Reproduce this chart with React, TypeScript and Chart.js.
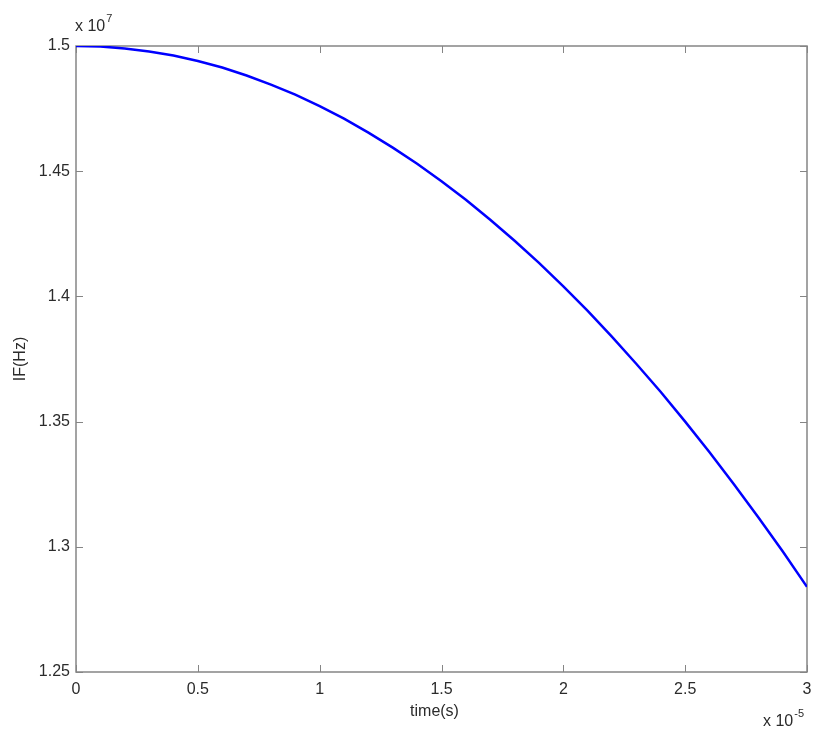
import React, { useEffect, useRef } from "react";
import { Chart, registerables } from "chart.js";

Chart.register(...registerables);

// time in units of 1e-5 s
const TIME = [0, 0.1, 0.2, 0.3, 0.4, 0.5, 0.6, 0.7, 0.8, 0.9, 1.0, 1.1, 1.2, 1.3, 1.4, 1.5, 1.6, 1.7, 1.8, 1.9, 2.0, 2.1, 2.2, 2.3, 2.4, 2.5, 2.6, 2.7, 2.8, 2.9, 3.0];
// instantaneous frequency in units of 1e7 Hz
const FREQ = [1.5, 1.4998, 1.499, 1.4978, 1.4962, 1.494, 1.4914, 1.4882, 1.4846, 1.4806, 1.476, 1.471, 1.4654, 1.4594, 1.453, 1.446, 1.4386, 1.4306, 1.4222, 1.4134, 1.404, 1.3942, 1.3838, 1.373, 1.3618, 1.35, 1.3378, 1.325, 1.3118, 1.2982, 1.284];

const X_TICKS = [0, 0.5, 1, 1.5, 2, 2.5, 3];
const Y_TICKS = [1.25, 1.3, 1.35, 1.4, 1.45, 1.5];
const X_LABEL = "time(s)";
const Y_LABEL = "IF(Hz)";
const X_EXP = "-5";
const Y_EXP = "7";

const FONT = "'Liberation Sans', Arial, sans-serif";
const TEXT_COLOR = "#2b2b2b";
const AXIS_COLOR = "#858585";

const fmt = (v: number) => String(Math.round(v * 100) / 100);

const matlabPlugin = {
  id: "matlabBox",
  beforeDatasetsDraw(chart: any) {
    const { ctx, chartArea, scales } = chart;
    const { left, right, top, bottom } = chartArea;
    const x = scales.x;
    const y = scales.y;
    ctx.save();
    ctx.strokeStyle = AXIS_COLOR;
    ctx.lineWidth = 1;
    ctx.beginPath();
    const tl = 7;
    X_TICKS.forEach((v) => {
      const px = Math.round(x.getPixelForValue(v)) + 0.5;
      ctx.moveTo(px, bottom);
      ctx.lineTo(px, bottom - tl);
      ctx.moveTo(px, top);
      ctx.lineTo(px, top + tl);
    });
    Y_TICKS.forEach((v) => {
      const py = Math.round(y.getPixelForValue(v)) + 0.5;
      ctx.moveTo(left, py);
      ctx.lineTo(left + tl, py);
      ctx.moveTo(right, py);
      ctx.lineTo(right - tl, py);
    });
    ctx.stroke();
    ctx.lineWidth = 1.5;
    ctx.strokeRect(left, top, right - left, bottom - top);
    ctx.restore();
  },
  afterDraw(chart: any) {
    const { ctx, chartArea } = chart;
    const { left, right, top, bottom } = chartArea;
    ctx.save();
    ctx.fillStyle = TEXT_COLOR;
    ctx.textBaseline = "middle";
    // x label
    ctx.font = `16px ${FONT}`;
    ctx.textAlign = "center";
    ctx.fillText(X_LABEL, (left + right) / 2 - 7, bottom + 40);
    // y label
    ctx.save();
    ctx.translate(21, (top + bottom) / 2);
    ctx.rotate(-Math.PI / 2);
    ctx.fillText(Y_LABEL, 0, 0);
    ctx.restore();
    // y exponent
    ctx.textAlign = "left";
    ctx.font = `16px ${FONT}`;
    ctx.fillText("x 10", left - 1, top - 19);
    const w1 = ctx.measureText("x 10").width;
    ctx.font = `11px ${FONT}`;
    ctx.fillText(Y_EXP, left - 1 + w1 + 1, top - 27);
    // x exponent
    ctx.font = `16px ${FONT}`;
    const w2 = ctx.measureText("x 10").width;
    ctx.fillText("x 10", right - 44, bottom + 50);
    ctx.font = `11px ${FONT}`;
    ctx.fillText(X_EXP, right - 44 + w2 + 1, bottom + 42);
    ctx.restore();
  },
};

export default function App() {
  const ref = useRef<HTMLCanvasElement | null>(null);
  useEffect(() => {
    if (!ref.current) return;
    const chart = new Chart(ref.current, {
      type: "line",
      data: {
        datasets: [
          {
            data: TIME.map((t, i) => ({ x: t, y: FREQ[i] })),
            borderColor: "#0000ff",
            borderWidth: 2.5,
            pointRadius: 0,
            tension: 0,
            fill: false,
          },
        ],
      },
      options: {
        animation: false,
        responsive: false,
        maintainAspectRatio: false,
        layout: { padding: { top: 46, right: 21, left: 0, bottom: 0 } },
        plugins: {
          legend: { display: false },
          tooltip: { enabled: false },
        },
        scales: {
          x: {
            type: "linear",
            min: 0,
            max: 3,
            grid: { display: false, drawTicks: false },
            border: { display: false },
            afterBuildTicks: (s: any) => {
              s.ticks = X_TICKS.map((v) => ({ value: v }));
            },
            afterFit: (s: any) => {
              s.height = 74;
            },
            ticks: {
              padding: 8,
              maxRotation: 0,
              autoSkip: false,
              color: TEXT_COLOR,
              font: { family: FONT, size: 16 },
              callback: (v: any) => fmt(Number(v)),
            },
          },
          y: {
            type: "linear",
            min: 1.25,
            max: 1.5,
            grid: { display: false, drawTicks: false },
            border: { display: false },
            afterBuildTicks: (s: any) => {
              s.ticks = Y_TICKS.map((v) => ({ value: v }));
            },
            afterFit: (s: any) => {
              s.width = 76;
            },
            ticks: {
              padding: 6,
              autoSkip: false,
              color: TEXT_COLOR,
              font: { family: FONT, size: 16 },
              callback: (v: any) => fmt(Number(v)),
            },
          },
        },
      },
      plugins: [matlabPlugin],
    });
    return () => chart.destroy();
  }, []);
  return (
    <div style={{ position: "absolute", left: 0, top: 0, width: 828, height: 746, background: "#fff" }}>
      <canvas ref={ref} width={828} height={746} style={{ display: "block" }} />
    </div>
  );
}
